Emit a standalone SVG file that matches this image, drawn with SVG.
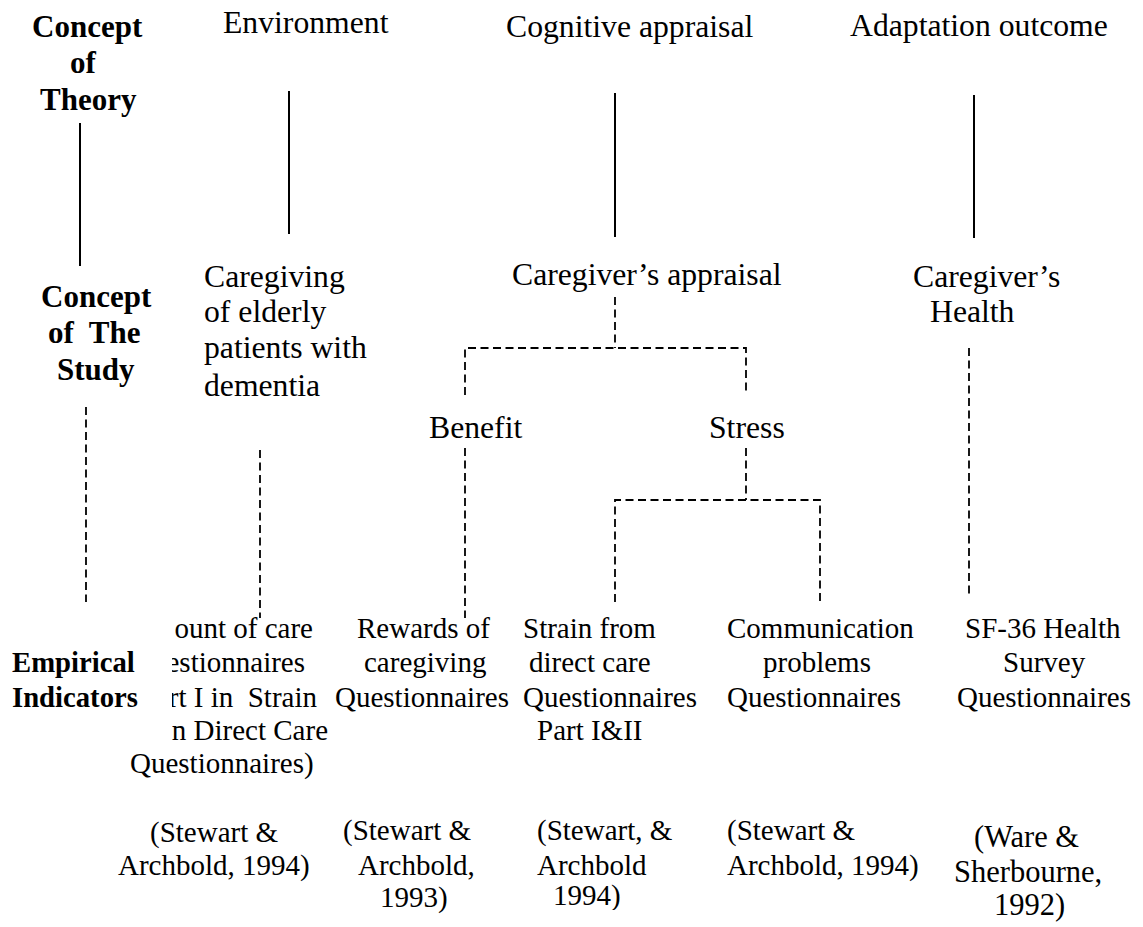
<svg xmlns="http://www.w3.org/2000/svg" width="1143" height="927" viewBox="0 0 1143 927" font-family="'Liberation Serif', 'Times New Roman', 'DejaVu Serif', serif">
<style>
text{font-family:'Liberation Serif','Times New Roman','DejaVu Serif',serif;fill:#000;white-space:pre}
.b{font-weight:bold;font-size:31px}
.bs{font-weight:bold;font-size:28.7px}
.m{font-size:31.7px}
.s{font-size:29px}
.c{font-size:30.5px}
.solid{stroke:#000;stroke-width:2;fill:none}
.dash{stroke:#000;stroke-width:1.8;fill:none;stroke-dasharray:8 4.5}
</style>
<defs>
<clipPath id="clipL"><rect x="172" y="600" width="400" height="200"/></clipPath>
<clipPath id="clipB"><rect x="500" y="860" width="200" height="50"/></clipPath>
</defs>
<rect width="1143" height="927" fill="#fff"/>
<g id="connectors">
<line class="solid" x1="80" y1="123" x2="80" y2="266"/>
<line class="solid" x1="289" y1="91" x2="289" y2="234"/>
<line class="solid" x1="615" y1="93" x2="615" y2="237"/>
<line class="solid" x1="974" y1="95" x2="974" y2="238"/>
<line class="dash" x1="86" y1="407" x2="86" y2="602"/>
<line class="dash" x1="260" y1="450" x2="260" y2="618"/>
<line class="dash" x1="615" y1="297" x2="615" y2="348"/>
<path class="dash" d="M465,395 V348 H746 V395"/>
<line class="dash" x1="465" y1="448" x2="465" y2="618"/>
<line class="dash" x1="746" y1="448" x2="746" y2="500"/>
<path class="dash" d="M615,602 V500 H820 V602"/>
<line class="dash" x1="969" y1="348" x2="969" y2="597"/>
</g>
<g id="row-labels">
<g id="concept-theory">
<text class="b" x="32" y="37">Concept</text>
<text class="b" x="70" y="73">of</text>
<text class="b" x="40" y="110">Theory</text>
</g>
<g id="concept-study">
<text class="b" x="41" y="307">Concept</text>
<text class="b" x="48" y="343">of  The</text>
<text class="b" x="57" y="380">Study</text>
</g>
<g id="empirical">
<text class="bs" x="12" y="672">Empirical</text>
<text class="bs" x="12" y="707">Indicators</text>
</g>
</g>
<g id="environment"><text class="m" x="223" y="33">Environment</text></g>
<g id="cognitive-appraisal"><text class="m" x="506" y="37">Cognitive appraisal</text></g>
<g id="adaptation-outcome"><text class="m" x="850" y="36">Adaptation outcome</text></g>
<g id="caregiving">
<text class="m" x="204" y="287">Caregiving</text>
<text class="m" x="204" y="322">of elderly</text>
<text class="m" x="204" y="358">patients with</text>
<text class="m" x="204" y="396">dementia</text>
</g>
<g id="caregiver-appraisal"><text class="m" x="512" y="285">Caregiver’s appraisal</text></g>
<g id="caregiver-health">
<text class="m" x="913" y="287">Caregiver’s</text>
<text class="m" x="930" y="322">Health</text>
</g>
<g id="benefit"><text class="m" x="429" y="438">Benefit</text></g>
<g id="stress"><text class="m" x="709" y="438">Stress</text></g>
<g id="amount-of-care">
<g clip-path="url(#clipL)">
<text class="s" x="313" y="638" text-anchor="end">ount of care</text>
<text class="s" x="305" y="672" text-anchor="end">estionnaires</text>
<text class="s" x="317" y="707" text-anchor="end">rt I in  Strain</text>
<text class="s" x="328" y="740" text-anchor="end">n Direct Care</text>
</g>
<text class="s" x="130" y="773">Questionnaires)</text>
<text class="s" x="150" y="842">(Stewart &amp;</text>
<text class="s" x="118" y="875">Archbold, 1994)</text>
</g>
<g id="rewards">
<text class="s" x="357" y="638">Rewards of</text>
<text class="s" x="364" y="672">caregiving</text>
<text class="s" x="335" y="707">Questionnaires</text>
<text class="s" x="343" y="840">(Stewart &amp;</text>
<text class="s" x="358" y="875">Archbold,</text>
<text class="s" x="380" y="907">1993)</text>
</g>
<g id="strain">
<text class="s" x="523" y="638">Strain from</text>
<text class="s" x="529" y="672">direct care</text>
<text class="s" x="523" y="707">Questionnaires</text>
<text class="s" x="537" y="740">Part I&amp;II</text>
<text class="s" x="537" y="840">(Stewart, &amp;</text>
<text class="s" x="537" y="875">Archbold</text>
<text class="s" x="553" y="905" clip-path="url(#clipB)">1994)</text>
</g>
<g id="communication">
<text class="s" x="727" y="638">Communication</text>
<text class="s" x="763" y="672">problems</text>
<text class="s" x="727" y="707">Questionnaires</text>
<text class="s" x="727" y="840">(Stewart &amp;</text>
<text class="s" x="727" y="875">Archbold, 1994)</text>
</g>
<g id="sf36">
<text class="s" x="965" y="638">SF-36 Health</text>
<text class="s" x="1003" y="672">Survey</text>
<text class="s" x="957" y="707">Questionnaires</text>
<text class="c" x="974" y="847">(Ware &amp;</text>
<text class="c" x="954" y="882">Sherbourne,</text>
<text class="c" x="994" y="915">1992)</text>
</g>
</svg>
